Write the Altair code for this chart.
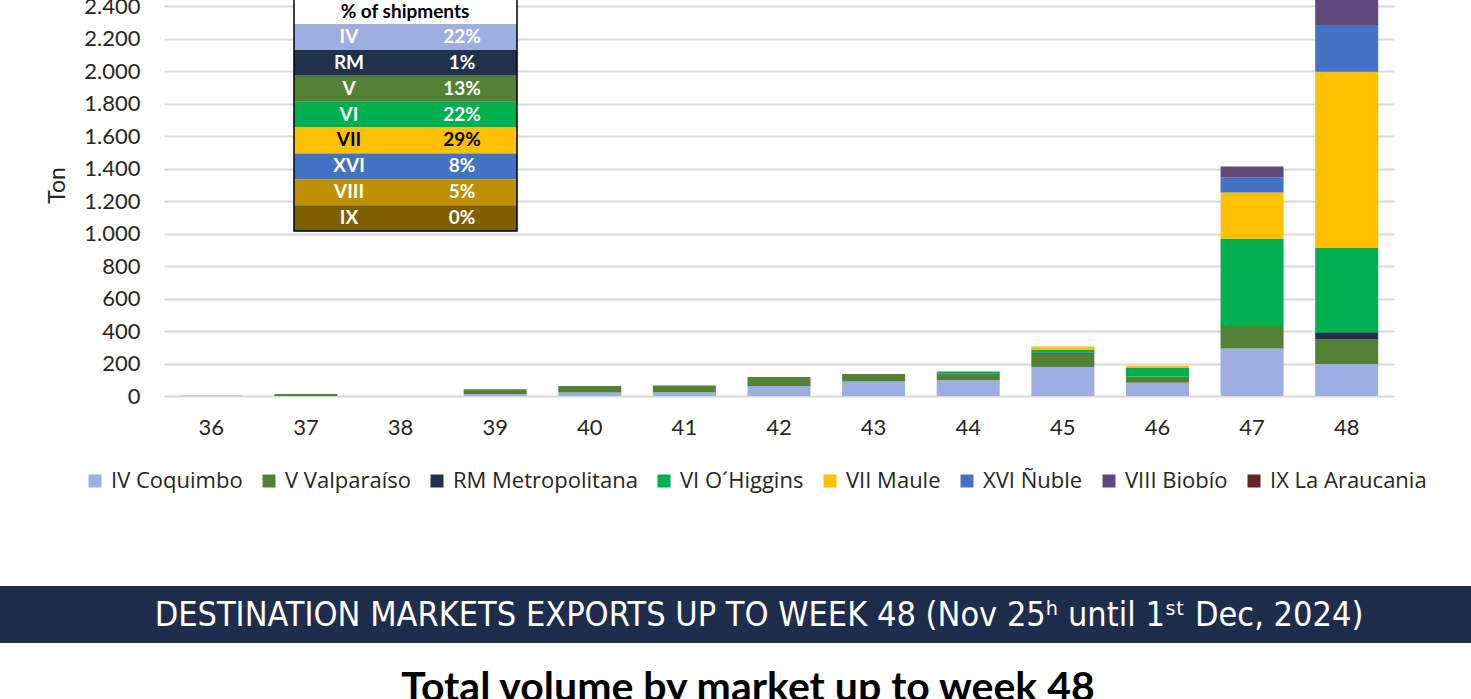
import altair as alt
import pandas as pd

# ---------------- data ----------------
weeks = [36, 37, 38, 39, 40, 41, 42, 43, 44, 45, 46, 47, 48]
regions = ["IV Coquimbo", "V Valparaíso", "RM Metropolitana", "VI O´Higgins",
           "VII Maule", "XVI Ñuble", "VIII Biobío", "IX La Araucania"]
region_colors = ["#9DAFE0", "#538135", "#203249", "#00B050",
                 "#FFC000", "#4472C4", "#604A7B", "#632523"]

iv_coquimbo = [3, 0, 0, 12, 21, 23, 62, 90, 97, 178, 82, 293, 197]
v_valparaiso = [0, 12, 0, 29, 41, 41, 55, 45, 35, 82, 37, 138, 150]
rm_metropolitana = [0, 0, 0, 0, 0, 0, 0, 0, 5, 6, 0, 0, 45]
vi_ohiggins = [0, 0, 0, 0, 0, 0, 0, 0, 14, 20, 57, 535, 519]
vii_maule = [0, 0, 0, 0, 0, 0, 0, 0, 0, 18, 10, 287, 1085]
xvi_nuble = [0, 0, 0, 0, 0, 0, 0, 0, 0, 0, 0, 92, 287]
viii_biobio = [0, 0, 0, 0, 0, 0, 0, 0, 0, 0, 0, 68, 170]
ix_araucania = [0, 0, 0, 0, 0, 0, 0, 0, 0, 0, 0, 0, 0]
series = [iv_coquimbo, v_valparaiso, rm_metropolitana, vi_ohiggins,
          vii_maule, xvi_nuble, viii_biobio, ix_araucania]

y_ticks = [0, 200, 400, 600, 800, 1000, 1200, 1400, 1600, 1800, 2000, 2200, 2400]

table_codes = ["IV", "RM", "V", "VI", "VII", "XVI", "VIII", "IX"]
table_pcts = [22, 1, 13, 22, 29, 8, 5, 0]
table_fills = ["#9DAFE0", "#203249", "#538135", "#00B050",
               "#FFC000", "#4472C4", "#BF9000", "#7F6000"]
table_text_colors = ["#FFFFFF", "#FFFFFF", "#FFFFFF", "#FFFFFF",
                     "#000000", "#FFFFFF", "#FFFFFF", "#FFFFFF"]
table_header = "% of shipments"

banner_text = "DESTINATION MARKETS EXPORTS UP TO WEEK 48 (Nov 25ʰ until 1ˢᵗ  Dec, 2024)"
section_title = "Total volume by market up to week 48"

# ---------------- tables ----------------
rows = []
for i, reg in enumerate(regions):
    for w, v in zip(weeks, series[i]):
        rows.append({"week": str(w), "region": reg, "order": i, "ton": v})
df = pd.DataFrame(rows)

tbl = pd.DataFrame({
    "code": table_codes,
    "pct": [f"{p}%" for p in table_pcts],
    "fill": table_fills,
    "txt": table_text_colors,
})
one = pd.DataFrame({"k": [0]})

FONT = "Lato"
LFONT = "Open Sans"
TXT = "#262626"

bars = alt.Chart(df).mark_bar(clip=True).encode(
    x=alt.X("week:O", sort=[str(w) for w in weeks],
            scale=alt.Scale(range=[0, 1230], paddingInner=0.334, paddingOuter=0.167),
            axis=alt.Axis(title=None, labelAngle=0, labelFontSize=22, labelFont=FONT,
                          labelColor=TXT, labelPadding=21, ticks=False, domain=False,
                          grid=False)),
    y=alt.Y("ton:Q", stack="zero",
            scale=alt.Scale(domain=[0, 2437], nice=False, zero=True),
            axis=alt.Axis(title="Ton", values=y_ticks,
                          labelExpr="replace(format(datum.value, ','), ',', '.')",
                          labelFontSize=22, labelFont=FONT, labelColor=TXT,
                          labelPadding=24, ticks=False, domain=False,
                          gridColor="#D9D9D9", gridWidth=2,
                          titleFont=FONT, titleFontSize=23, titleFontWeight="normal",
                          titleColor=TXT, titleX=-107, titleY=185,
                          titleAlign="center", titleBaseline="middle")),
    color=alt.Color("region:N", sort=regions,
                    scale=alt.Scale(domain=regions, range=region_colors),
                    legend=alt.Legend(orient="none", legendX=-80, legendY=470,
                                      direction="horizontal", columns=8, title=None,
                                      symbolType="square", symbolSize=169,
                                      symbolStrokeWidth=0, labelFont=LFONT,
                                      labelFontSize=22, labelColor=TXT,
                                      labelLimit=0,
                                      labelOffset=5, columnPadding=15)),
    order=alt.Order("order:Q", sort="ascending"),
)

ty = alt.Y("code:N", sort=table_codes,
           scale=alt.Scale(range=[24, 231], paddingInner=0, paddingOuter=0),
           axis=None)

header_bg = alt.Chart(one).mark_rect(color="white").encode(
    x=alt.value(130), x2=alt.value(353), y=alt.value(0), y2=alt.value(24))
header_txt = alt.Chart(one).mark_text(font=FONT, fontWeight="bold", fontSize=19,
                                      color="black").encode(
    x=alt.value(241), y=alt.value(12), text=alt.value(table_header))
t_rects = alt.Chart(tbl).mark_rect().encode(
    y=ty, x=alt.value(130), x2=alt.value(353),
    color=alt.Color("fill:N", scale=None))
t_codes = alt.Chart(tbl).mark_text(font=FONT, fontWeight="bold", fontSize=19).encode(
    y=ty, x=alt.value(185), text="code:N", color=alt.Color("txt:N", scale=None))
t_pcts = alt.Chart(tbl).mark_text(font=FONT, fontWeight="bold", fontSize=19).encode(
    y=ty, x=alt.value(298), text="pct:N", color=alt.Color("txt:N", scale=None))
t_border = alt.Chart(one).mark_rect(filled=False, stroke="black", strokeWidth=1.5).encode(
    x=alt.value(130), x2=alt.value(353), y=alt.value(-2), y2=alt.value(231))

table = alt.layer(header_bg, header_txt, t_rects, t_codes, t_pcts, t_border)

banner = alt.Chart(one).mark_rect(color="#1F2D4D").encode(
    x=alt.value(-164), x2=alt.value(1307), y=alt.value(586), y2=alt.value(643))
banner_t = alt.Chart(one).mark_text(
    font="Liberation Sans Narrow, DejaVu Sans Condensed, Arial Narrow, sans-serif",
    fontSize=34, color="white", align="center", baseline="middle").encode(
    x=alt.value(595), y=alt.value(616), text=alt.value(banner_text))
title_t = alt.Chart(one).mark_text(font=FONT, fontWeight="bold", fontSize=41,
                                   color="black", align="center",
                                   baseline="alphabetic").encode(
    x=alt.value(584), y=alt.value(701), text=alt.value(section_title))

chart = alt.layer(bars, table, banner, banner_t, title_t).resolve_scale(
    y="independent", color="independent"
).properties(
    width=1307, height=396,
    padding={"left": 164, "top": 0, "right": 0, "bottom": 303},
    autosize=alt.AutoSizeParams(type="none"),
    background="white",
).configure_view(stroke=None)

chart.save("out.html", embed_options={"renderer": "svg", "actions": False})
